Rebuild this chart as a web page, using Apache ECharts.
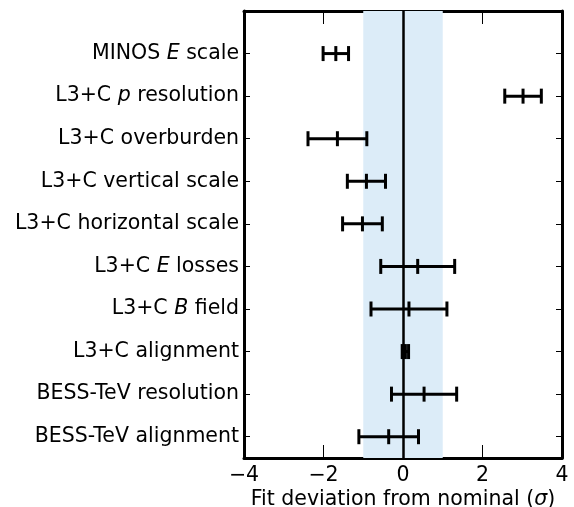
<!DOCTYPE html>
<html><head><meta charset="utf-8">
<script src="https://cdn.jsdelivr.net/npm/echarts@6/dist/echarts.min.js"></script>
<style>html,body{margin:0;padding:0;background:#fff}#c{width:574px;height:507px}</style>
</head><body><div id="c"></div>
<script>
// Categories, top to bottom (rich-text markup for italic parts)
const categories = [
  "MINOS {i|E} scale",
  "L3+C {i|p} resolution",
  "L3+C overburden",
  "L3+C vertical scale",
  "L3+C horizontal scale",
  "L3+C {i|E} losses",
  "L3+C {i|B} field",
  "L3+C alignment",
  "BESS-TeV resolution",
  "BESS-TeV alignment"
];
const centers = [-1.69, 3.02, -1.65, -0.92, -1.02, 0.37, 0.15, 0.06, 0.53, -0.36];
const errors  = [0.32, 0.46, 0.74, 0.48, 0.50, 0.93, 0.955, 0.08, 0.82, 0.75];
const xTicks = [-4, -2, 0, 2, 4];
const band = [-1, 1];

const n = categories.length;
const rowPos = categories.map((_, i) => n - 1 - i);
const data = categories.map((_, i) => [centers[i], rowPos[i], errors[i]]);
const FONT = "DejaVu Sans";
const FS = 20.5;

const chart = echarts.init(document.getElementById('c'), null, {renderer: 'canvas'});
const lab = {};
rowPos.forEach((p, i) => lab[p] = categories[i]);

function renderItem(params, api) {
  const c = api.value(0), y = api.value(1), e = api.value(2);
  const l = api.coord([c - e, y]);
  const r = api.coord([c + e, y]);
  const m = api.coord([c, y]);
  const h = 7.5;
  const st = {stroke: '#000', lineWidth: 3};
  return {type: 'group', children: [
    {type: 'line', shape: {x1: l[0], y1: l[1], x2: r[0], y2: r[1]}, style: st},
    {type: 'line', shape: {x1: l[0], y1: l[1] - h, x2: l[0], y2: l[1] + h}, style: st},
    {type: 'line', shape: {x1: r[0], y1: r[1] - h, x2: r[0], y2: r[1] + h}, style: st},
    {type: 'line', shape: {x1: m[0], y1: m[1] - h, x2: m[0], y2: m[1] + h}, style: st}
  ]};
}

const xTickStyle = {show: true, inside: true, length: 13, lineStyle: {color: '#000', width: 1}};
const yTickStyle = {show: true, inside: true, length: 6, lineStyle: {color: '#000', width: 1}};
const lineStyle = {show: true, onZero: false, lineStyle: {color: '#000', width: 3}};

chart.setOption({
  animation: false,
  backgroundColor: '#fff',
  grid: {left: 244, right: 12, top: 11, bottom: 49, containLabel: false, outerBoundsMode: 'none'},
  xAxis: [
    {type: 'value', min: -4, max: 4, interval: 2, position: 'bottom',
     axisLine: lineStyle, axisTick: xTickStyle, splitLine: {show: false},
     axisLabel: {color: '#000', fontFamily: FONT, fontSize: FS, margin: 7,
       formatter: v => (v < 0 ? '\u2212' + Math.abs(v) : String(v)), customValues: xTicks},
     name: 'Fit deviation from nominal ({i|σ})', nameLocation: 'middle', nameGap: 31,
     nameMoveOverlap: false,
     nameTextStyle: {color: '#000', fontFamily: FONT, fontSize: FS,
       rich: {i: {fontStyle: 'italic', fontFamily: FONT, fontSize: FS, color: '#000'}}}},
    {type: 'value', min: -4, max: 4, interval: 2, position: 'top',
     axisLine: lineStyle, axisTick: xTickStyle, axisLabel: {show: false}, splitLine: {show: false}}
  ],
  yAxis: [
    {type: 'value', min: -0.5, max: 10, position: 'left',
     axisLine: lineStyle, splitLine: {show: false},
     axisTick: Object.assign({}, yTickStyle, {customValues: rowPos}),
     axisLabel: {customValues: rowPos, margin: 5, color: '#000', fontFamily: FONT, fontSize: FS,
       formatter: v => lab[Math.round(v)] || '',
       rich: {i: {fontStyle: 'italic', fontFamily: FONT, fontSize: FS, color: '#000'}}}},
    {type: 'value', min: -0.5, max: 10, position: 'right',
     axisLine: lineStyle, splitLine: {show: false},
     axisTick: Object.assign({}, yTickStyle, {customValues: rowPos}),
     axisLabel: {show: false}}
  ],
  series: [
    {type: 'line', data: [], z: 1, silent: true,
     markArea: {silent: true, itemStyle: {color: '#dcecf8'},
       data: [[{xAxis: band[0]}, {xAxis: band[1]}]]}},
    {type: 'line', data: [], z: 2, silent: true,
     markLine: {silent: true, symbol: ['none', 'none'], label: {show: false},
       lineStyle: {color: '#000', width: 2.5, type: 'solid'}, data: [{xAxis: 0}]}},
    {type: 'custom', renderItem: renderItem, data: data, z: 5,
     encode: {x: [0], y: 1}}
  ]
});
</script></body></html>
